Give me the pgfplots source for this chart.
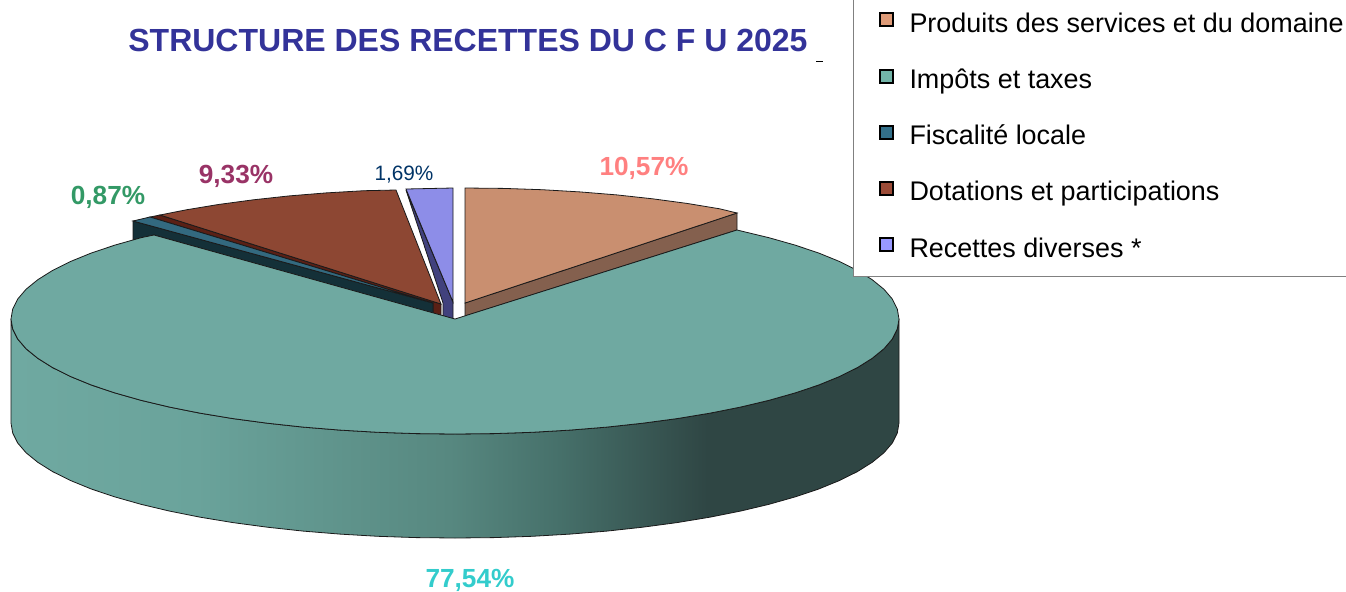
\documentclass[border=0pt]{standalone}
\usepackage{fontspec}
\setmainfont{Liberation Sans}
\usepackage{pgfplots}
\pgfplotsset{compat=1.18}

\definecolor{tanTop}{HTML}{C98F70}
\definecolor{tanSide}{HTML}{84604E}
\definecolor{tealTop}{HTML}{6FA9A1}
\definecolor{redTop}{HTML}{8D4733}
\definecolor{redSide}{HTML}{5A2015}
\definecolor{fisTop}{HTML}{33697F}
\definecolor{fisSide}{HTML}{143038}
\definecolor{bluTop}{HTML}{8D8DE8}
\definecolor{bluSide}{HTML}{41417D}
\definecolor{edgeC}{HTML}{1A1A1A}
\definecolor{titleC}{HTML}{333399}
\definecolor{labA}{HTML}{FF8080}
\definecolor{labB}{HTML}{993366}
\definecolor{labC}{HTML}{339966}
\definecolor{labD}{HTML}{003366}
\definecolor{labE}{HTML}{33CCCC}
\definecolor{legTan}{HTML}{DE9B78}
\definecolor{legTeal}{HTML}{72B4A8}
\definecolor{legFis}{HTML}{33708A}
\definecolor{legRed}{HTML}{9C4C38}
\definecolor{legBlu}{HTML}{9999FF}

\definecolor{g1}{HTML}{6FA9A1}
\definecolor{g2}{HTML}{6AA39B}
\definecolor{g3}{HTML}{578880}
\definecolor{g4}{HTML}{46706A}
\definecolor{g5}{HTML}{2F4644}
\pgfdeclarehorizontalshading{sidegrad}{100bp}{
  color(0bp)=(g1); color(25bp)=(g1); color(35.4bp)=(g2); color(49.7bp)=(g3);
  color(55.9bp)=(g4); color(64.2bp)=(g5); color(100bp)=(g5)}

\begin{document}
\begin{tikzpicture}
\path[use as bounding box] (0,0) rectangle (673pt,295.5pt);
% picture coordinates: 1 unit = 1 px of the reference
\begin{axis}[
    at={(0,0)}, anchor=south west,
    scale only axis,
    width=673pt, height=295.5pt,
    xmin=0, xmax=1346, ymin=0, ymax=591,
    y dir=reverse,
    hide axis,
    clip=false,
    legend cell align=left,
    legend style={
        at={(0.63373,0.5321)}, anchor=south west,
        draw=gray, fill=white, line width=0.5pt,
        inner xsep=12.5pt, inner ysep=6pt,
        font=\fontsize{13.47}{15}\selectfont,
        row sep=12.8pt,
        /tikz/every odd column/.append style={column sep=6pt},
    },
    legend image code/.code={
        \draw[draw=black, line width=1pt] (-0.5pt,-1.3pt) rectangle (6pt,5.2pt);
    },
]
\addlegendimage{fill=legTan}
\addlegendentry{Produits des services et du domaine}
\addlegendimage{fill=legTeal}
\addlegendentry{Impôts et taxes}
\addlegendimage{fill=legFis}
\addlegendentry{Fiscalité locale}
\addlegendimage{fill=legRed}
\addlegendentry{Dotations et participations}
\addlegendimage{fill=legBlu}
\addlegendentry{Recettes diverses *}

% Produits des services et du domaine
\addplot[forget plot, fill=tanSide, draw=edgeC, line width=0.4pt] coordinates {
    (465,303)(737,213)(737,230)(465,316)} --cycle;
\addplot[forget plot, fill=tanTop, draw=edgeC, line width=0.4pt] coordinates {
    (465,303)(465,188)(503.7,188.4)(542.1,189.7)(579.9,191.9)(616.9,194.9)
    (652.6,198.8)(687,203.4)(719.7,208.8)(737,213)} --cycle;

% Dotations et participations
\addplot[forget plot, fill=redSide, draw=edgeC, line width=0.4pt] coordinates {
    (160,215)(441,304)(441,315)(433,314)(433,303)(150,217)} --cycle;
\addplot[forget plot, fill=redTop, draw=edgeC, line width=0.4pt] coordinates {
    (441,304)(396,190)(363.9,190.7)(326.1,192.9)(289.2,195.9)(253.4,199.8)
    (219,204.4)(186.3,209.8)(160,215)} --cycle;

% Fiscalite locale
\addplot[forget plot, fill=fisSide, draw=edgeC, line width=0.4pt] coordinates {
    (133,221)(433,303)(433,314)(154,235)(133,240)} --cycle;
\addplot[forget plot, fill=fisTop, draw=edgeC, line width=0.4pt] coordinates {
    (133,221)(150,217)(433,303)} --cycle;

% Recettes diverses
\addplot[forget plot, fill=bluSide, draw=edgeC, line width=0.4pt] coordinates {
    (406,190)(453,302)(453,319)(443,316)(443,303)} --cycle;
\addplot[forget plot, fill=bluTop, draw=edgeC, line width=0.4pt] coordinates {
    (406,189)(453,188)(453,302)} --cycle;

% Impots et taxes: front wall, then top face
\addplot[forget plot, shading=sidegrad, draw=edgeC, line width=0.4pt] coordinates {
    (11,319)(12.7,329)(17.7,339)(26.1,348.8)(37.8,358.3)(52.6,367.6)(70.5,376.5)
    (91.3,385)(114.9,392.9)(141,400.3)(169.6,407.1)(200.3,413.2)(233,418.6)
    (267.4,423.2)(303.2,427.1)(340.1,430.1)(377.9,432.3)(416.3,433.6)(455,434)
    (493.7,433.6)(532.1,432.3)(569.9,430.1)(606.8,427.1)(642.6,423.2)(677,418.6)
    (709.7,413.2)(740.4,407.1)(769,400.3)(795.1,392.9)(818.7,385)(839.5,376.5)
    (857.4,367.6)(872.2,358.3)(883.9,348.8)(892.3,339)(897.3,329)(899,319)
    (899,423)(897.3,433)(892.3,443)(883.9,452.8)(872.2,462.3)(857.4,471.6)
    (839.5,480.5)(818.7,489)(795.1,496.9)(769,504.3)(740.4,511.1)(709.7,517.2)
    (677,522.6)(642.6,527.2)(606.8,531.1)(569.9,534.1)(532.1,536.3)(493.7,537.6)
    (455,538)(416.3,537.6)(377.9,536.3)(340.1,534.1)(303.2,531.1)(267.4,527.2)
    (233,522.6)(200.3,517.2)(169.6,511.1)(141,504.3)(114.9,496.9)(91.3,489)
    (70.5,480.5)(52.6,471.6)(37.8,462.3)(26.1,452.8)(17.7,443)(12.7,433)(11,423)} --cycle;
\addplot[forget plot, fill=tealTop, draw=edgeC, line width=0.4pt] coordinates {
    (455,319)(737,230)(769,237.7)(795.1,245.1)(818.7,253)(839.5,261.5)(857.4,270.4)
    (872.2,279.7)(883.9,289.2)(892.3,299)(897.3,309)(899,319)(897.3,329)(892.3,339)
    (883.9,348.8)(872.2,358.3)(857.4,367.6)(839.5,376.5)(818.7,385)(795.1,392.9)
    (769,400.3)(740.4,407.1)(709.7,413.2)(677,418.6)(642.6,423.2)(606.8,427.1)
    (569.9,430.1)(532.1,432.3)(493.7,433.6)(455,434)(416.3,433.6)(377.9,432.3)
    (340.1,430.1)(303.2,427.1)(267.4,423.2)(233,418.6)(200.3,413.2)(169.6,407.1)
    (141,400.3)(114.9,392.9)(91.3,385)(70.5,376.5)(52.6,367.6)(37.8,358.3)
    (26.1,348.8)(17.7,339)(12.7,329)(11,319)(12.7,309)(17.7,299)(26.1,289.2)
    (37.8,279.7)(52.6,270.4)(70.5,261.5)(91.3,253)(114.9,245.1)(141,237.7)(154,235)} --cycle;

% stray mark next to the title
\addplot[forget plot, black, line width=0.5pt] coordinates {(816,61)(823,61)};

\node[font=\fontsize{16}{18}\selectfont\bfseries, text=titleC, anchor=base] at (axis cs:468,51) {STRUCTURE DES RECETTES DU C F U 2025};
\node[font=\fontsize{13.1}{15}\selectfont\bfseries, text=labA, anchor=base] at (axis cs:644,175) {10,57\%};
\node[font=\fontsize{13.1}{15}\selectfont\bfseries, text=labB, anchor=base] at (axis cs:236,183) {9,33\%};
\node[font=\fontsize{13.1}{15}\selectfont\bfseries, text=labC, anchor=base] at (axis cs:108,204) {0,87\%};
\node[font=\fontsize{10.4}{12}\selectfont, text=labD, anchor=base] at (axis cs:404,180) {1,69\%};
\node[font=\fontsize{13.1}{15}\selectfont\bfseries, text=labE, anchor=base] at (axis cs:470,587) {77,54\%};
\end{axis}
\end{tikzpicture}
\end{document}
